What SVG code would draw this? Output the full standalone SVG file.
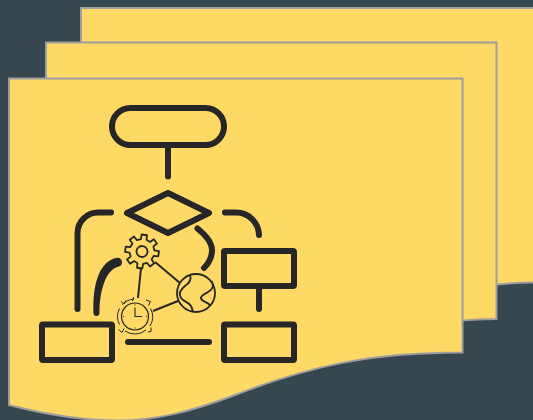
<svg xmlns="http://www.w3.org/2000/svg" width="533" height="420" viewBox="0 0 533 420">
<style>
.page{fill:#ffd966;stroke:#9e9e9e;stroke-width:2}
.thick{fill:none;stroke:#262626;stroke-width:6;stroke-linecap:round;stroke-linejoin:round}
.box{fill:none;stroke:#262626;stroke-width:6;stroke-linejoin:round}
.link{fill:none;stroke:#262626;stroke-width:2}
.icon{fill:none;stroke:#262626;stroke-width:1.800;stroke-linejoin:round}
.fine{fill:none;stroke:#262626;stroke-width:1}
</style>
<rect width="533" height="420" fill="#37474f"/>
<g id="page-back"><path class="page" d="M81 8H540V282.500Q515 282.500 490 285H81Z"/></g>
<g id="page-middle"><path class="page" d="M46 42.500H496.500V319Q480 319 455 321H46Z"/></g>
<g id="page-front"><path class="page" d="M9 78.500H462.500V352.500C370 352.500 310 366 235 395C190 412 155 420.500 118 420.500C78 420.500 40 413 9 405Z"/></g>
<g id="connectors">
<path class="thick" d="M168 147V176.500"/>
<path class="thick" d="M111 212.500H98A20.500 20.500 0 0 0 77.500 233V309"/>
<path d="M93.500 313C92.500 285 99 261 117 257.700A4.500 4.500 0 0 1 119 266.400C106 269 99.500 290 99.500 313A3 3 0 0 1 93.500 313Z" fill="#262626"/>
<path class="thick" d="M225 212.500H236A23 23 0 0 1 259 235"/>
<path class="thick" d="M197.500 228.500C208 237 212 243 212 250C212 257 209 263 204 268"/>
<path class="thick" d="M259 288V309"/>
<path class="thick" d="M128 342H209"/>
<path class="link" d="M141 268L138 298"/>
<path class="link" d="M155 262L180 283"/>
<path class="link" d="M153 311L178 301"/>
</g>
<g id="node-start"><rect class="box" x="112" y="108" width="112" height="37" rx="18.500"/></g>
<g id="node-decision"><path class="thick" d="M168 193L209 213L168 233L127 213Z"/></g>
<g id="node-box-right"><rect class="box" x="224" y="251" width="70" height="35" rx="1"/></g>
<g id="node-box-left"><rect class="box" x="42" y="324.500" width="70" height="35.500" rx="1"/></g>
<g id="node-box-bottom"><rect class="box" x="224" y="324.500" width="70" height="35.500" rx="1"/></g>
<g id="node-gear" transform="translate(142 251.500) rotate(8)">
<polygon class="icon" points="-2.810,-12.180 -2.660,-16.790 2.660,-16.790 2.810,-12.180 6.620,-10.600 9.990,-13.750 13.750,-9.990 10.600,-6.620 12.180,-2.810 16.790,-2.660 16.790,2.660 12.180,2.810 10.600,6.620 13.750,9.990 9.990,13.750 6.620,10.600 2.810,12.180 2.660,16.790 -2.660,16.790 -2.810,12.180 -6.620,10.600 -9.990,13.750 -13.750,9.990 -10.600,6.620 -12.180,2.810 -16.790,2.660 -16.790,-2.660 -12.180,-2.810 -10.600,-6.620 -13.750,-9.990 -9.990,-13.750 -6.620,-10.600"/>
<circle class="icon" r="5.500"/>
</g>
<g id="node-globe">
<circle class="icon" cx="196" cy="293" r="19"/>
<path class="icon" d="M190 275C192 280 188 284 185 286C181 289 178 293 181 298C184 302 189 302 191 306Q192.500 309 192.700 311.500"/>
<path class="icon" d="M211.500 281C214 285 213.500 289 208 292C203 295 199 297 202 300C205 303 209 302 210 306"/>
</g>
<g id="node-clock" transform="translate(135 316.500)">
<circle class="fine" r="13.500" style="stroke-width:1.200"/>
<path class="fine" d="M-12.500 -12A17.500 17.500 0 0 1 -1 -17.500M15.500 -8A17.500 17.500 0 0 1 15 9.500M11 13.500A17.500 17.500 0 0 1 -10 14.500M-15.500 8A17.500 17.500 0 0 1 -15.500 -8"/>
<path class="fine" d="M-14 -15L-11 -12.500L-9 -16M-2 -19.500L-1 -17.500L-3 -15.500M11 -16.500L15.500 -15L13.500 -11M-16.500 13L-13 16L-11 12M13 15.500L16 15L16 11"/>
<path class="icon" style="stroke-width:1.100" d="M0 -9V0H7"/>
<path class="fine" d="M0 -12V-11M0 11V12M-12 0H-11M11 0H12"/>
</g>
</svg>
